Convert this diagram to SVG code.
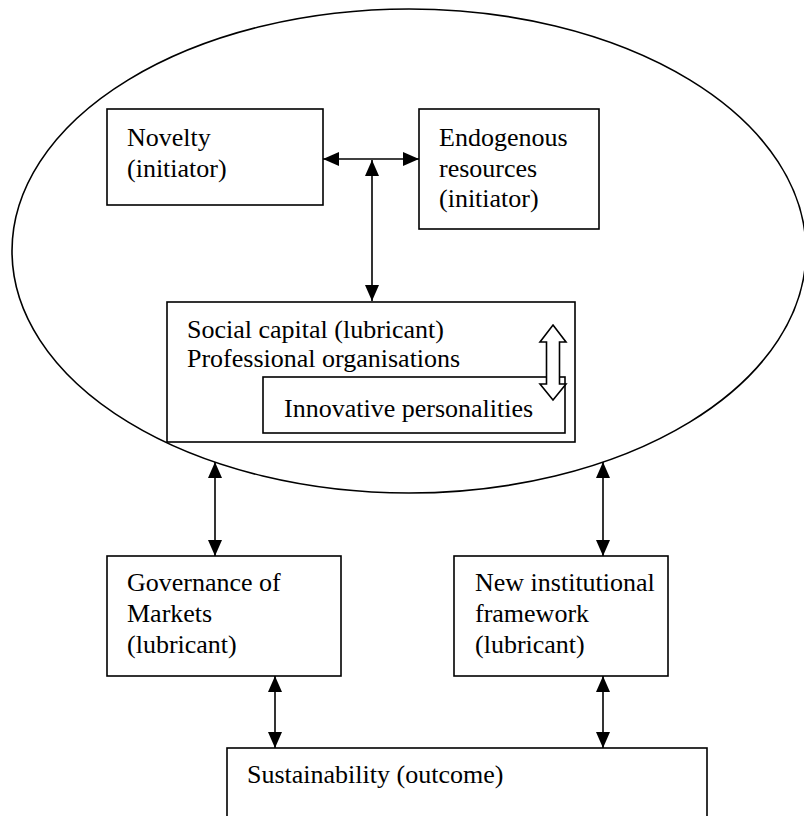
<svg xmlns="http://www.w3.org/2000/svg" width="804" height="816" viewBox="0 0 804 816">
  <style>
    .box { fill: #fff; stroke: #000; stroke-width: 1.6; }
    .lbl { font-family: "Liberation Serif", "Times New Roman", serif; font-size: 26px; fill: #000; }
    .link { fill: none; stroke: #000; stroke-width: 1.6; marker-start: url(#head); marker-end: url(#head); }
  </style>
  <defs>
    <marker id="head" viewBox="0 0 16 14" refX="16" refY="7" markerWidth="16" markerHeight="14" markerUnits="userSpaceOnUse" orient="auto-start-reverse">
      <path d="M0,0 L16,7 L0,14 Z" fill="#000"/>
    </marker>
  </defs>

  <!-- the enclosing oval -->
  <g id="oval">
    <ellipse cx="409" cy="251" rx="397" ry="242" fill="none" stroke="#000" stroke-width="1.6"/>
  </g>

  <g id="novelty">
    <rect class="box" x="107" y="109" width="216" height="96"/>
    <text class="lbl" x="127" y="146">Novelty</text>
    <text class="lbl" x="127" y="177">(initiator)</text>
  </g>

  <g id="endogenous">
    <rect class="box" x="419" y="109" width="180" height="120"/>
    <text class="lbl" x="439" y="146">Endogenous</text>
    <text class="lbl" x="439" y="177">resources</text>
    <text class="lbl" x="439" y="207">(initiator)</text>
  </g>

  <g id="social-capital">
    <rect class="box" x="167" y="302" width="408" height="140"/>
    <text class="lbl" x="187" y="338">Social capital (lubricant)</text>
    <text class="lbl" x="187" y="367">Professional organisations</text>
  </g>

  <g id="innovative-personalities">
    <rect class="box" x="263" y="377" width="302" height="56"/>
    <text class="lbl" x="284" y="417">Innovative personalities</text>
  </g>

  <g id="governance">
    <rect class="box" x="107" y="556" width="234" height="120"/>
    <text class="lbl" x="127" y="591">Governance of</text>
    <text class="lbl" x="127" y="622">Markets</text>
    <text class="lbl" x="127" y="653">(lubricant)</text>
  </g>

  <g id="institutional">
    <rect class="box" x="454" y="556" width="214" height="120"/>
    <text class="lbl" x="475" y="591">New institutional</text>
    <text class="lbl" x="475" y="622">framework</text>
    <text class="lbl" x="475" y="653">(lubricant)</text>
  </g>

  <g id="sustainability">
    <rect class="box" x="227" y="748" width="480" height="80"/>
    <text class="lbl" x="247" y="783">Sustainability (outcome)</text>
  </g>

  <g id="connectors">
    <line class="link" x1="323" y1="159" x2="419" y2="159"/>
    <line class="link" x1="372" y1="160" x2="372" y2="301"/>
    <line class="link" x1="215" y1="462" x2="215" y2="556"/>
    <line class="link" x1="603" y1="462" x2="603" y2="556"/>
    <line class="link" x1="275" y1="676" x2="275" y2="748"/>
    <line class="link" x1="603" y1="676" x2="603" y2="748"/>
    <!-- hollow two-way arrow between the organisations and the personalities -->
    <path d="M553,325 L566,342 L559.5,342 L559.5,384 L566,384 L553,400 L540,384 L546.5,384 L546.5,342 L540,342 Z" fill="#fff" stroke="#000" stroke-width="1.6" stroke-linejoin="miter"/>
  </g>
</svg>
